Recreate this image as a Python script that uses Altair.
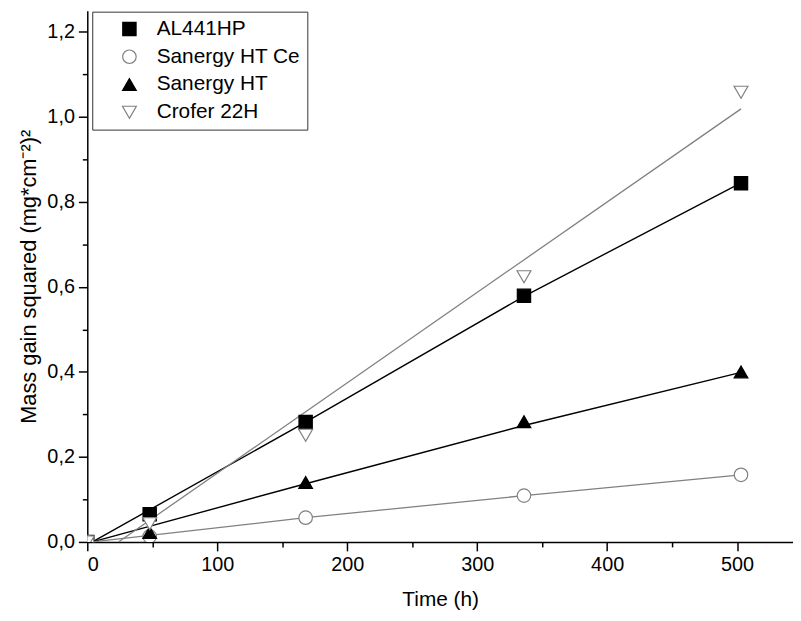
import altair as alt
import pandas as pd

series = ["AL441HP", "Sanergy HT Ce", "Sanergy HT", "Crofer 22H"]
time_h = [0, 48, 168, 336, 503]
al441hp = [0.0, 0.065, 0.282, 0.579, 0.844]
sanergy_ce = [0.0, 0.013, 0.057, 0.109, 0.158]
sanergy = [0.0, 0.022, 0.140, 0.283, 0.400]
crofer = [0.0, 0.043, 0.251, 0.624, 1.058]

# fitted lines drawn through the data
fit_x = {
    "AL441HP": [4, 168, 336, 503],
    "Sanergy HT Ce": [4, 168, 336, 503],
    "Sanergy HT": [4, 168, 336, 503],
    "Crofer 22H": [24, 503],
}
fit_y = {
    "AL441HP": [0.0, 0.282, 0.578, 0.845],
    "Sanergy HT Ce": [0.0, 0.057, 0.109, 0.158],
    "Sanergy HT": [0.0, 0.137, 0.274, 0.399],
    "Crofer 22H": [0.0, 1.019],
}

x_ticks = [0, 50, 100, 150, 200, 250, 300, 350, 400, 450, 500]
y_ticks = [0.0, 0.1, 0.2, 0.3, 0.4, 0.5, 0.6, 0.7, 0.8, 0.9, 1.0, 1.1, 1.2]

values = [al441hp, sanergy_ce, sanergy, crofer]
pts = pd.DataFrame(
    [{"series": s, "t": t, "v": v} for s, vals in zip(series, values) for t, v in zip(time_h, vals)]
)
lines = pd.DataFrame(
    [{"series": s, "t": t, "v": v} for s in series for t, v in zip(fit_x[s], fit_y[s])]
)

FONT = "Liberation Sans"
GRAY = "#808080"

x_enc = alt.X(
    "t:Q",
    scale=alt.Scale(domain=[0, 543], nice=False, zero=False),
    axis=alt.Axis(
        title="Time (h)",
        values=x_ticks,
        labelExpr="datum.value % 100 == 0 ? datum.label : ''",
        tickSize={"condition": {"test": "datum.value % 100 == 0", "value": 9}, "value": 5},
        titlePadding=14,
    ),
)
y_enc = alt.Y(
    "v:Q",
    scale=alt.Scale(domain=[0, 1.25], nice=False),
    axis=alt.Axis(
        title="Mass gain squared (mg*cm\u207b\u00b2)\u00b2",
        values=y_ticks,
        labelExpr="round(datum.value*10) % 2 == 0 ? replace(format(datum.value, '.1f'), '.', ',') : ''",
        tickSize={"condition": {"test": "round(datum.value*10) % 2 == 0", "value": 9}, "value": 5},
        titlePadding=6,
        titleFontSize=22,
    ),
)

black_lines = (
    alt.Chart(lines)
    .transform_filter(alt.FieldOneOfPredicate(field="series", oneOf=["AL441HP", "Sanergy HT"]))
    .mark_line(color="black", strokeWidth=1.4)
    .encode(x=x_enc, y=y_enc, detail="series:N")
)
gray_lines = (
    alt.Chart(lines)
    .transform_filter(alt.FieldOneOfPredicate(field="series", oneOf=["Sanergy HT Ce", "Crofer 22H"]))
    .mark_line(color=GRAY, strokeWidth=1.3)
    .encode(x=x_enc, y=y_enc, detail="series:N")
)

legend = alt.Legend(title=None, orient="none", legendX=5, legendY=1)

points = (
    alt.Chart(pts)
    .mark_point(filled=False, strokeWidth=1.2, opacity=1, clip=True)
    .encode(
        x=x_enc,
        y=y_enc,
        shape=alt.Shape(
            "series:N",
            sort=series,
            scale=alt.Scale(domain=series, range=["square", "circle", "triangle-up", "triangle-down"]),
            legend=legend,
        ),
        fill=alt.Fill(
            "series:N",
            sort=series,
            scale=alt.Scale(domain=series, range=["black", "white", "black", "white"]),
            legend=legend,
        ),
        stroke=alt.Stroke(
            "series:N",
            sort=series,
            scale=alt.Scale(domain=series, range=["black", GRAY, "black", GRAY]),
            legend=legend,
        ),
        size=alt.Size(
            "series:N",
            sort=series,
            scale=alt.Scale(domain=series, range=[180, 196, 280, 280]),
            legend=legend,
        ),
    )
)

chart = (
    alt.layer(black_lines, gray_lines, points)
    .properties(
        width=712,
        height=536,
        autosize=alt.AutoSizeParams(type="none"),
        padding={"left": 80, "top": 0, "right": 0, "bottom": 70},
    )
    .configure_view(stroke=None)
    .configure_axis(
        grid=False,
        domainColor="black",
        domainWidth=1.5,
        tickColor="black",
        tickWidth=1.5,
        labelFont=FONT,
        labelFontSize=20,
        labelColor="black",
        labelPadding=4,
        titleFont=FONT,
        titleFontSize=21,
        titleFontWeight="normal",
        titleColor="black",
    )
    .configure_legend(
        strokeColor="#333333",
        fillColor="white",
        padding=7,
        labelFont=FONT,
        labelFontSize=21,
        labelColor="black",
        symbolStrokeWidth=1.2,
        symbolOffset=20,
        labelOffset=17,
        rowPadding=6,
    )
)

chart.save("out.html", embed_options={"renderer": "svg", "actions": False})
